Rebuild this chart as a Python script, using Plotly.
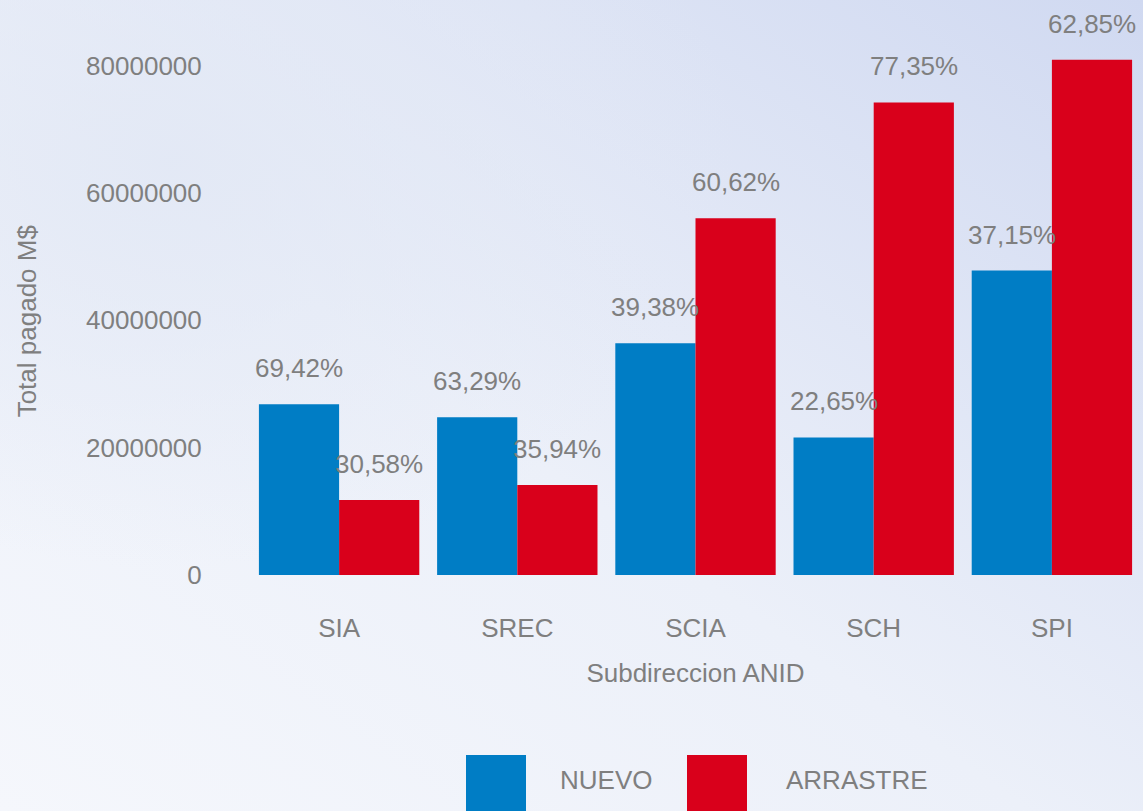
import base64
import plotly.graph_objs as go

# data
subdirecciones = ['SIA', 'SREC', 'SCIA', 'SCH', 'SPI']
nuevo = [26820000, 24780000, 36400000, 21600000, 47800000]
arrastre = [11760000, 14120000, 56000000, 74200000, 80900000]
nuevo_pct = ['69,42%', '63,29%', '39,38%', '22,65%', '37,15%']
arrastre_pct = ['30,58%', '35,94%', '60,62%', '77,35%', '62,85%']
y_ticks = [0, 20000000, 40000000, 60000000, 80000000]

AZUL = '#007dc5'
ROJO = '#d9001b'
GRIS = '#7f7f7f'
FUENTE = 'Liberation Sans, Arial, sans-serif'

W, H = 1143, 811
ML, MR, MT, MB = 250, 2, 40, 236
PW, PH = W - ML - MR, H - MT - MB


def px_x(x):
    return (x - ML) / PW


def px_y(y):
    return (H - MB - y) / PH


def main():
    fig = go.Figure()
    fig.add_trace(go.Bar(x=subdirecciones, y=nuevo, name='NUEVO',
                         marker_color=AZUL, marker_line_width=0))
    fig.add_trace(go.Bar(x=subdirecciones, y=arrastre, name='ARRASTRE',
                         marker_color=ROJO, marker_line_width=0))

    # porcentajes sobre cada barra
    half = PW / len(subdirecciones) * 0.9 / 4
    for cat, v, t in zip(subdirecciones, nuevo, nuevo_pct):
        fig.add_annotation(x=cat, y=v, text=t, showarrow=False, xshift=-half,
                           yanchor='bottom', yshift=19)
    for cat, v, t in zip(subdirecciones, arrastre, arrastre_pct):
        fig.add_annotation(x=cat, y=v, text=t, showarrow=False, xshift=half,
                           yanchor='bottom', yshift=19)

    # leyenda grande abajo
    for x0, color, label, lx in [(466, AZUL, 'NUEVO', 606), (687, ROJO, 'ARRASTRE', 857)]:
        fig.add_shape(type='rect', xref='paper', yref='paper',
                      x0=px_x(x0), x1=px_x(x0 + 60), y0=px_y(755), y1=px_y(830),
                      fillcolor=color, line_width=0)
        fig.add_annotation(xref='paper', yref='paper', x=px_x(lx), y=px_y(780),
                           text=label, showarrow=False, xanchor='center', yanchor='middle')

    # fondo degradado
    svg = ('<svg xmlns="http://www.w3.org/2000/svg" width="1143" height="811">'
           '<defs><linearGradient id="g" x1="0" y1="1" x2="1" y2="0">'
           '<stop offset="0" stop-color="#f5f7fc"/>'
           '<stop offset="0.45" stop-color="#ecf0f9"/>'
           '<stop offset="1" stop-color="#d0d9f1"/>'
           '</linearGradient>'
           '<radialGradient id="r" cx="0.15" cy="0.2" r="0.5">'
           '<stop offset="0" stop-color="#e2e8f5" stop-opacity="0.9"/>'
           '<stop offset="1" stop-color="#e2e8f5" stop-opacity="0"/>'
           '</radialGradient></defs>'
           '<rect width="1143" height="811" fill="url(#g)"/>'
           '<rect width="1143" height="811" fill="url(#r)"/></svg>')
    src = 'data:image/svg+xml;base64,' + base64.b64encode(svg.encode()).decode()
    fig.add_layout_image(source=src, xref='paper', yref='paper',
                         x=px_x(0), y=px_y(0), sizex=W / PW, sizey=H / PH,
                         xanchor='left', yanchor='top', sizing='stretch', layer='below')

    # relleno invisible al final del titulo para bajarlo un poco
    y_title = "Total pagado M$<span style='color:rgba(0,0,0,0)'>Mi</span>"

    fig.update_layout(
        width=W, height=H,
        margin=dict(l=ML, r=MR, t=MT, b=MB),
        barmode='group', bargap=0.1, bargroupgap=0,
        showlegend=False,
        paper_bgcolor='#eaeff8', plot_bgcolor='rgba(0,0,0,0)',
        font=dict(family=FUENTE, size=26, color=GRIS),
        xaxis=dict(title=dict(text='Subdireccion ANID', standoff=21, font=dict(size=26)),
                   showgrid=False, zeroline=False, showline=False,
                   ticks='outside', ticklen=30, tickcolor='rgba(0,0,0,0)'),
        yaxis=dict(title=dict(text=y_title, standoff=42, font=dict(size=26)),
                   range=[0, 84000000], tickvals=y_ticks, tickformat='d',
                   showgrid=False, zeroline=False, showline=False,
                   ticks='outside', ticklen=42, tickcolor='rgba(0,0,0,0)'),
    )

    # quitar el margen del body para que la figura ocupe la ventana
    fig.write_html('out.html', config={'displayModeBar': False},
                   post_script="document.body.style.margin='0';"
                               "document.body.style.overflow='hidden';")


if __name__ == '__main__':
    main()
